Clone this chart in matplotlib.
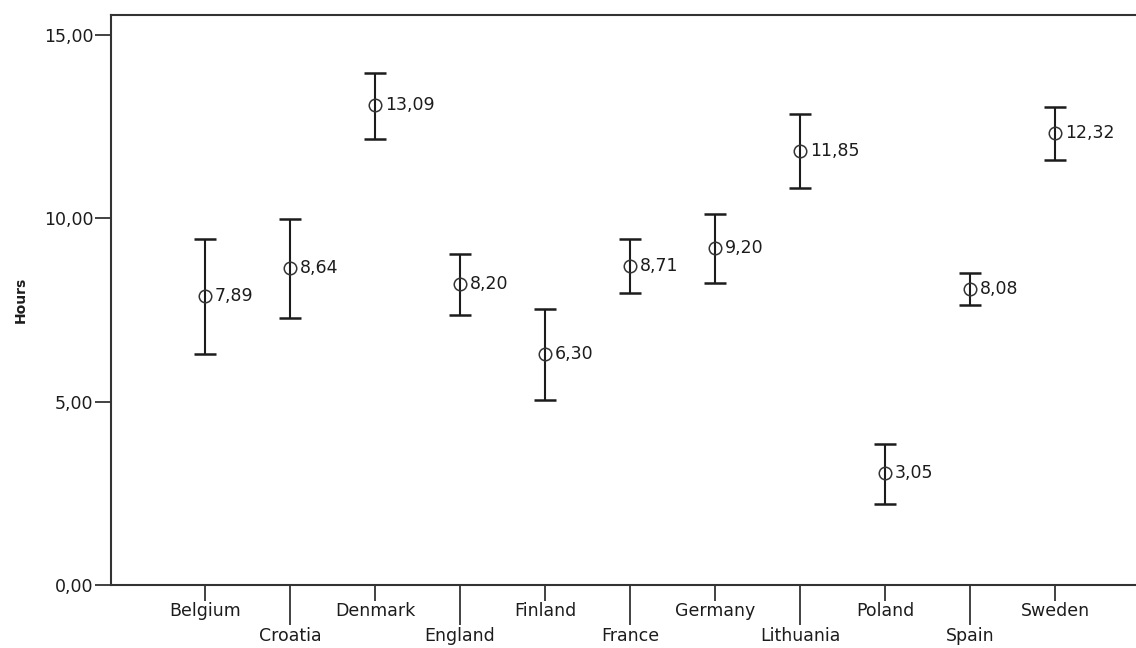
import matplotlib
matplotlib.use("Agg")
import matplotlib.pyplot as plt
import numpy as np

# 数据
countries = ["Belgium", "Croatia", "Denmark", "England", "Finland", "France",
             "Germany", "Lithuania", "Poland", "Spain", "Sweden"]
means = [7.89, 8.64, 13.09, 8.20, 6.30, 8.71, 9.20, 11.85, 3.05, 8.08, 12.32]
upper = [9.45, 9.98, 13.98, 9.02, 7.53, 9.43, 10.13, 12.86, 3.86, 8.51, 13.04]
lower = [6.31, 7.29, 12.18, 7.37, 5.05, 7.97, 8.24, 10.82, 2.21, 7.63, 11.59]
yticks = [0, 5, 10, 15]

dark = "#1c1c1c"
fs = 12.5

fig = plt.figure(figsize=(11.36, 6.48), dpi=100)
ax = fig.add_axes([111 / 1136, 1 - 585 / 648, 1 - 111 / 1136, (585 - 15) / 648])

x = np.arange(len(countries))
means = np.array(means)
err = [means - np.array(lower), np.array(upper) - means]

ax.errorbar(x, means, yerr=err, fmt="none", ecolor=dark, elinewidth=1.5,
            capsize=8, capthick=1.8)
ax.plot(x, means, "o", mfc="none", mec="#333333", mew=1.1, ms=9)

for xi, m in zip(x, means):
    ax.annotate(f"{m:.2f}".replace(".", ","), (xi, m), xytext=(7, 0),
                textcoords="offset points", va="center", ha="left",
                fontsize=fs, color=dark)

ax.set_xlim(-1.106, 10.953)
ax.set_ylim(0, 15.55)

# y 轴
ax.set_yticks(yticks)
ax.set_yticklabels([f"{v:.2f}".replace(".", ",") for v in yticks])
ax.tick_params(axis="y", length=11.5, width=1.3, color="#333333", pad=1,
               labelsize=fs, labelcolor=dark)
ax.set_ylabel("Hours", fontsize=10, fontweight="bold", color=dark, labelpad=12)

# x 轴: 交错的标签
ax.set_xticks(x[::2])
ax.set_xticklabels(countries[::2])
ax.set_xticks(x[1::2], minor=True)
ax.set_xticklabels(countries[1::2], minor=True)
ax.tick_params(axis="x", which="major", length=11.5, width=1.3, color="#333333",
               pad=1, labelsize=fs, labelcolor=dark)
ax.tick_params(axis="x", which="minor", length=29, width=1.3, color="#333333",
               pad=1, labelsize=fs, labelcolor=dark)

for side in ["left", "bottom", "top"]:
    ax.spines[side].set_linewidth(1.5)
    ax.spines[side].set_color("#333333")
ax.spines["right"].set_visible(False)

fig.savefig("out.png", dpi=100)
